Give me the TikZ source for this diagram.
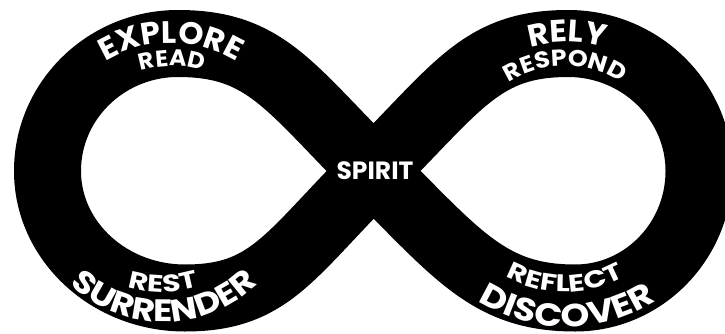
\documentclass[tikz,border=0pt]{standalone}
\usepackage{fontspec}
\setmainfont{Poppins}
\newfontfamily\fsA[FakeStretch=1.03]{Poppins}
\newfontfamily\fsB[FakeStretch=1.10]{Poppins}
\newfontfamily\fsC[FakeStretch=1.15]{Poppins}
\newfontfamily\fsD[FakeStretch=1.25]{Poppins}
\usetikzlibrary{decorations.text}
\tikzset{
  band/.style={draw=black, line width=67pt, line join=round},
  curvetext/.style={decorate, decoration={text along path, text align=center, text color=white, text={#1}}},
}
\newcommand{\topbig}{\fsA\fontsize{31}{31}\selectfont\bfseries}
\newcommand{\topsml}{\fsA\fontsize{23}{23}\selectfont\bfseries}
\newcommand{\topsmlw}{\fsB\fontsize{23}{23}\selectfont\bfseries}
\newcommand{\botbig}{\fsC\fontsize{31}{31}\selectfont\bfseries}
\newcommand{\botbigw}{\fsC\fontsize{32}{32}\selectfont\bfseries}
\newcommand{\botsml}{\fsD\fontsize{24}{24}\selectfont\bfseries}
\begin{document}
\begin{tikzpicture}[x=1pt,y=1pt]
\useasboundingbox (0,0) rectangle (725,333);
\clip (0,0) rectangle (725,333);
\coordinate (C) at (373.5,162);
\coordinate (TL) at (178,289.5);
\coordinate (L) at (47.5,162);
\coordinate (BL) at (185,35);
\coordinate (TR) at (568,289.5);
\coordinate (R) at (699,162);
\coordinate (BR) at (575,35);
\draw[band] (C) .. controls (288.5,247) and (265,289.5) .. (TL)
  .. controls (106,289.5) and (47.5,232.4) .. (L)
  .. controls (47.5,92) and (109,35) .. (BL)
  .. controls (270,35) and (288.5,77) .. (C)
  .. controls (458.5,247) and (482,289.5) .. (TR)
  .. controls (640,289.5) and (699,232.4) .. (R)
  .. controls (699,92) and (643.5,35) .. (BR)
  .. controls (490,35) and (458.5,77) .. (C) -- cycle;
% top left
\path[curvetext={|\topbig|EXPLORE}] (171,163) ++(150:127) arc[start angle=150, end angle=30, radius=127];
\path[curvetext={|\topsml|READ}] (172,163) ++(150:104) arc[start angle=150, end angle=30, radius=104];
% top right
\path[curvetext={|\topbig|RELY}] (567,163) ++(150:128) arc[start angle=150, end angle=30, radius=128];
\path[curvetext={|\topsmlw|RESPOND}] (565,163) ++(150:104) arc[start angle=150, end angle=30, radius=104];
% bottom left
\path[curvetext={|\botsml|REST}] (163,162) ++(210:121) arc[start angle=210, end angle=330, radius=121];
\path[curvetext={|\botbig|SURRENDER}] (164,146) ++(200:135) arc[start angle=200, end angle=340, radius=135];
% bottom right
\path[curvetext={|\botsml|REFLECT}] (565,162) ++(210:121) arc[start angle=210, end angle=330, radius=121];
\path[curvetext={|\botbigw|DISCOVER}] (567,171) ++(210:165) arc[start angle=210, end angle=330, radius=165];
% centre
\node[text=white, font=\fontsize{25}{25}\selectfont\bfseries, inner sep=0pt] (spirit) at (375,162) {SPIRIT};
\end{tikzpicture}
\end{document}
